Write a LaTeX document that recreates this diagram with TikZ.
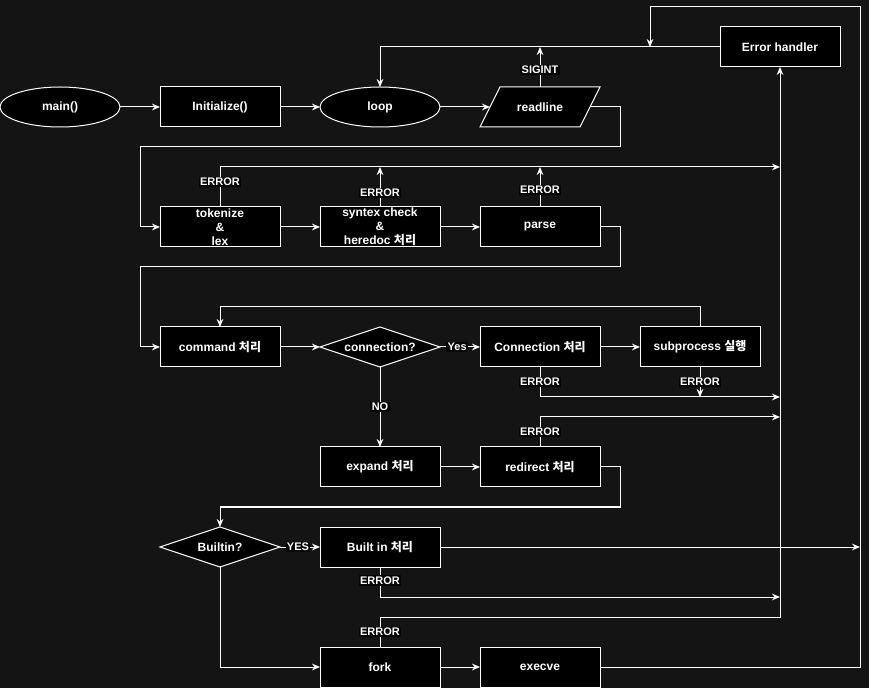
\documentclass[tikz,border=0pt]{standalone}
\usepackage{fontspec}
\setmainfont{Liberation Sans}
\newfontfamily\krfont{Noto Sans CJK KR}
\usetikzlibrary{positioning}
\usetikzlibrary{shapes.geometric}
\usetikzlibrary{arrows.meta}
\usetikzlibrary{calc}
\definecolor{canvas}{RGB}{20,20,20}
\definecolor{lblbg}{RGB}{6,6,6}

\begin{document}
\begin{tikzpicture}[x=0.75pt, y=-0.75pt, node distance=30pt,
		font=\bfseries\fontsize{9}{10.5}\selectfont,
		every node/.append style={text=white, align=center},
		box/.style={draw=white, fill=black, line width=0.75pt, minimum width=90pt, minimum height=30pt, inner sep=0pt, outer sep=0pt},
		term/.style={box, ellipse},
		decision/.style={box, diamond, aspect=3},
		io/.style={minimum width=90pt, minimum height=30pt, inner sep=0pt, outer sep=0pt},
		lbl/.style={fill=lblbg, inner sep=1pt, font=\bfseries\fontsize{8.25}{9}\selectfont},
		flow/.style={draw=white, line width=0.75pt, -{Stealth[length=6pt, width=5pt, inset=2pt]}}]
		\fill[canvas] (0,0) rectangle (869,688);
		\useasboundingbox (0,0) rectangle (869,688);
		% top row
		\node[term] (main) at (60,107) {main()};
		\node[box, right=of main] (init) {Initialize()};
		\node[term, right=of init] (loop) {loop};
		\node[io, right=of loop] (readline) {};
		\filldraw[draw=white, fill=black, line width=0.75pt]
			($(readline.north west)+(20,0)$) -- (readline.north east)
			-- ($(readline.south east)-(20,0)$) -- (readline.south west) -- cycle;
		\node at (readline) {readline};
		\node[box] (errh) at (780,47) {Error handler};
		% lexing and parsing
		\node[box, below=60pt of init] (tok) {tokenize\\\&\\lex};
		\node[box, right=of tok] (syn) {syntex check\\\&\\heredoc {\krfont 처리}};
		\node[box, right=of syn] (parse) {parse};
		% commands
		\node[box, below=60pt of tok] (cmd) {command {\krfont 처리}};
		\node[decision, right=of cmd] (conn) {connection?};
		\node[box, right=of conn] (connp) {Connection {\krfont 처리}};
		\node[box, right=of connp] (subp) {subprocess {\krfont 실행}};
		\node[box, below=60pt of conn] (expand) {expand {\krfont 처리}};
		\node[box, right=of expand] (redir) {redirect {\krfont 처리}};
		% execution
		\node[box, below=30pt of expand] (bip) {Built in {\krfont 처리}};
		\node[decision, left=of bip] (builtin) {Builtin?};
		\node[box, below=60pt of bip] (fork) {fork};
		\node[box, right=of fork] (execve) {execve};

		\draw[flow] (main) -- (init);
		\draw[flow] (init) -- (loop);
		\draw[flow] (loop) -- ($(readline.west)+(10,0)$);
		\draw[flow] (readline.north) -- node[lbl, pos=0.425]{SIGINT} (readline |- errh);
		\draw[flow] (errh) -| (loop);
		\draw[flow] ($(readline.east)-(10,0)$) -| (620,147) -| (140,227) -- (tok);
		\draw[flow] (tok) -- (syn);
		\draw[flow] (syn) -- (parse);
		\draw[flow] (tok.north) -- node[lbl, pos=0.625]{ERROR} ++(0,-40) -- (780,167);
		\draw[flow] (syn.north) -- node[lbl, pos=0.35]{ERROR} ++(0,-40);
		\draw[flow] (parse.north) -- node[lbl, pos=0.425]{ERROR} ++(0,-40);
		\draw[flow] (parse.east) -| (620,267) -| (140,347) -- (cmd);
		\draw[flow] (cmd) -- (conn);
		\draw[flow] (conn) -- node[lbl, pos=0.43]{Yes} (connp);
		\draw[flow] (conn) -- node[lbl]{NO} (expand);
		\draw[flow] (connp) -- (subp);
		\draw[flow] (subp.north) -- ++(0,-20) -| (cmd);
		\draw[flow] (connp.south) -- node[lbl]{ERROR} ++(0,30) -- (780,397);
		\draw[flow] (subp.south) -- node[lbl]{ERROR} ++(0,30);
		\draw[flow] (expand) -- (redir);
		\draw[flow] (redir.north) -- node[lbl]{ERROR} ++(0,-30) -- (780,417);
		\draw[flow] (redir.east) -| (620,507) -| (builtin);
		\draw[flow] (builtin) -- node[lbl, pos=0.45]{YES} (bip);
		\draw[flow] (builtin) |- (fork);
		\draw[flow] (bip) -- (860,547);
		\draw[flow] (bip.south) -- node[lbl, pos=0.45]{ERROR} ++(0,30) -- (780,597);
		\draw[flow] (fork.north) -- node[lbl]{ERROR} ++(0,-30) -| (errh);
		\draw[flow] (fork) -- (execve);
		\draw[flow] (execve) -| (860,7) -| (650,47);
		\end{tikzpicture}
\end{document}
